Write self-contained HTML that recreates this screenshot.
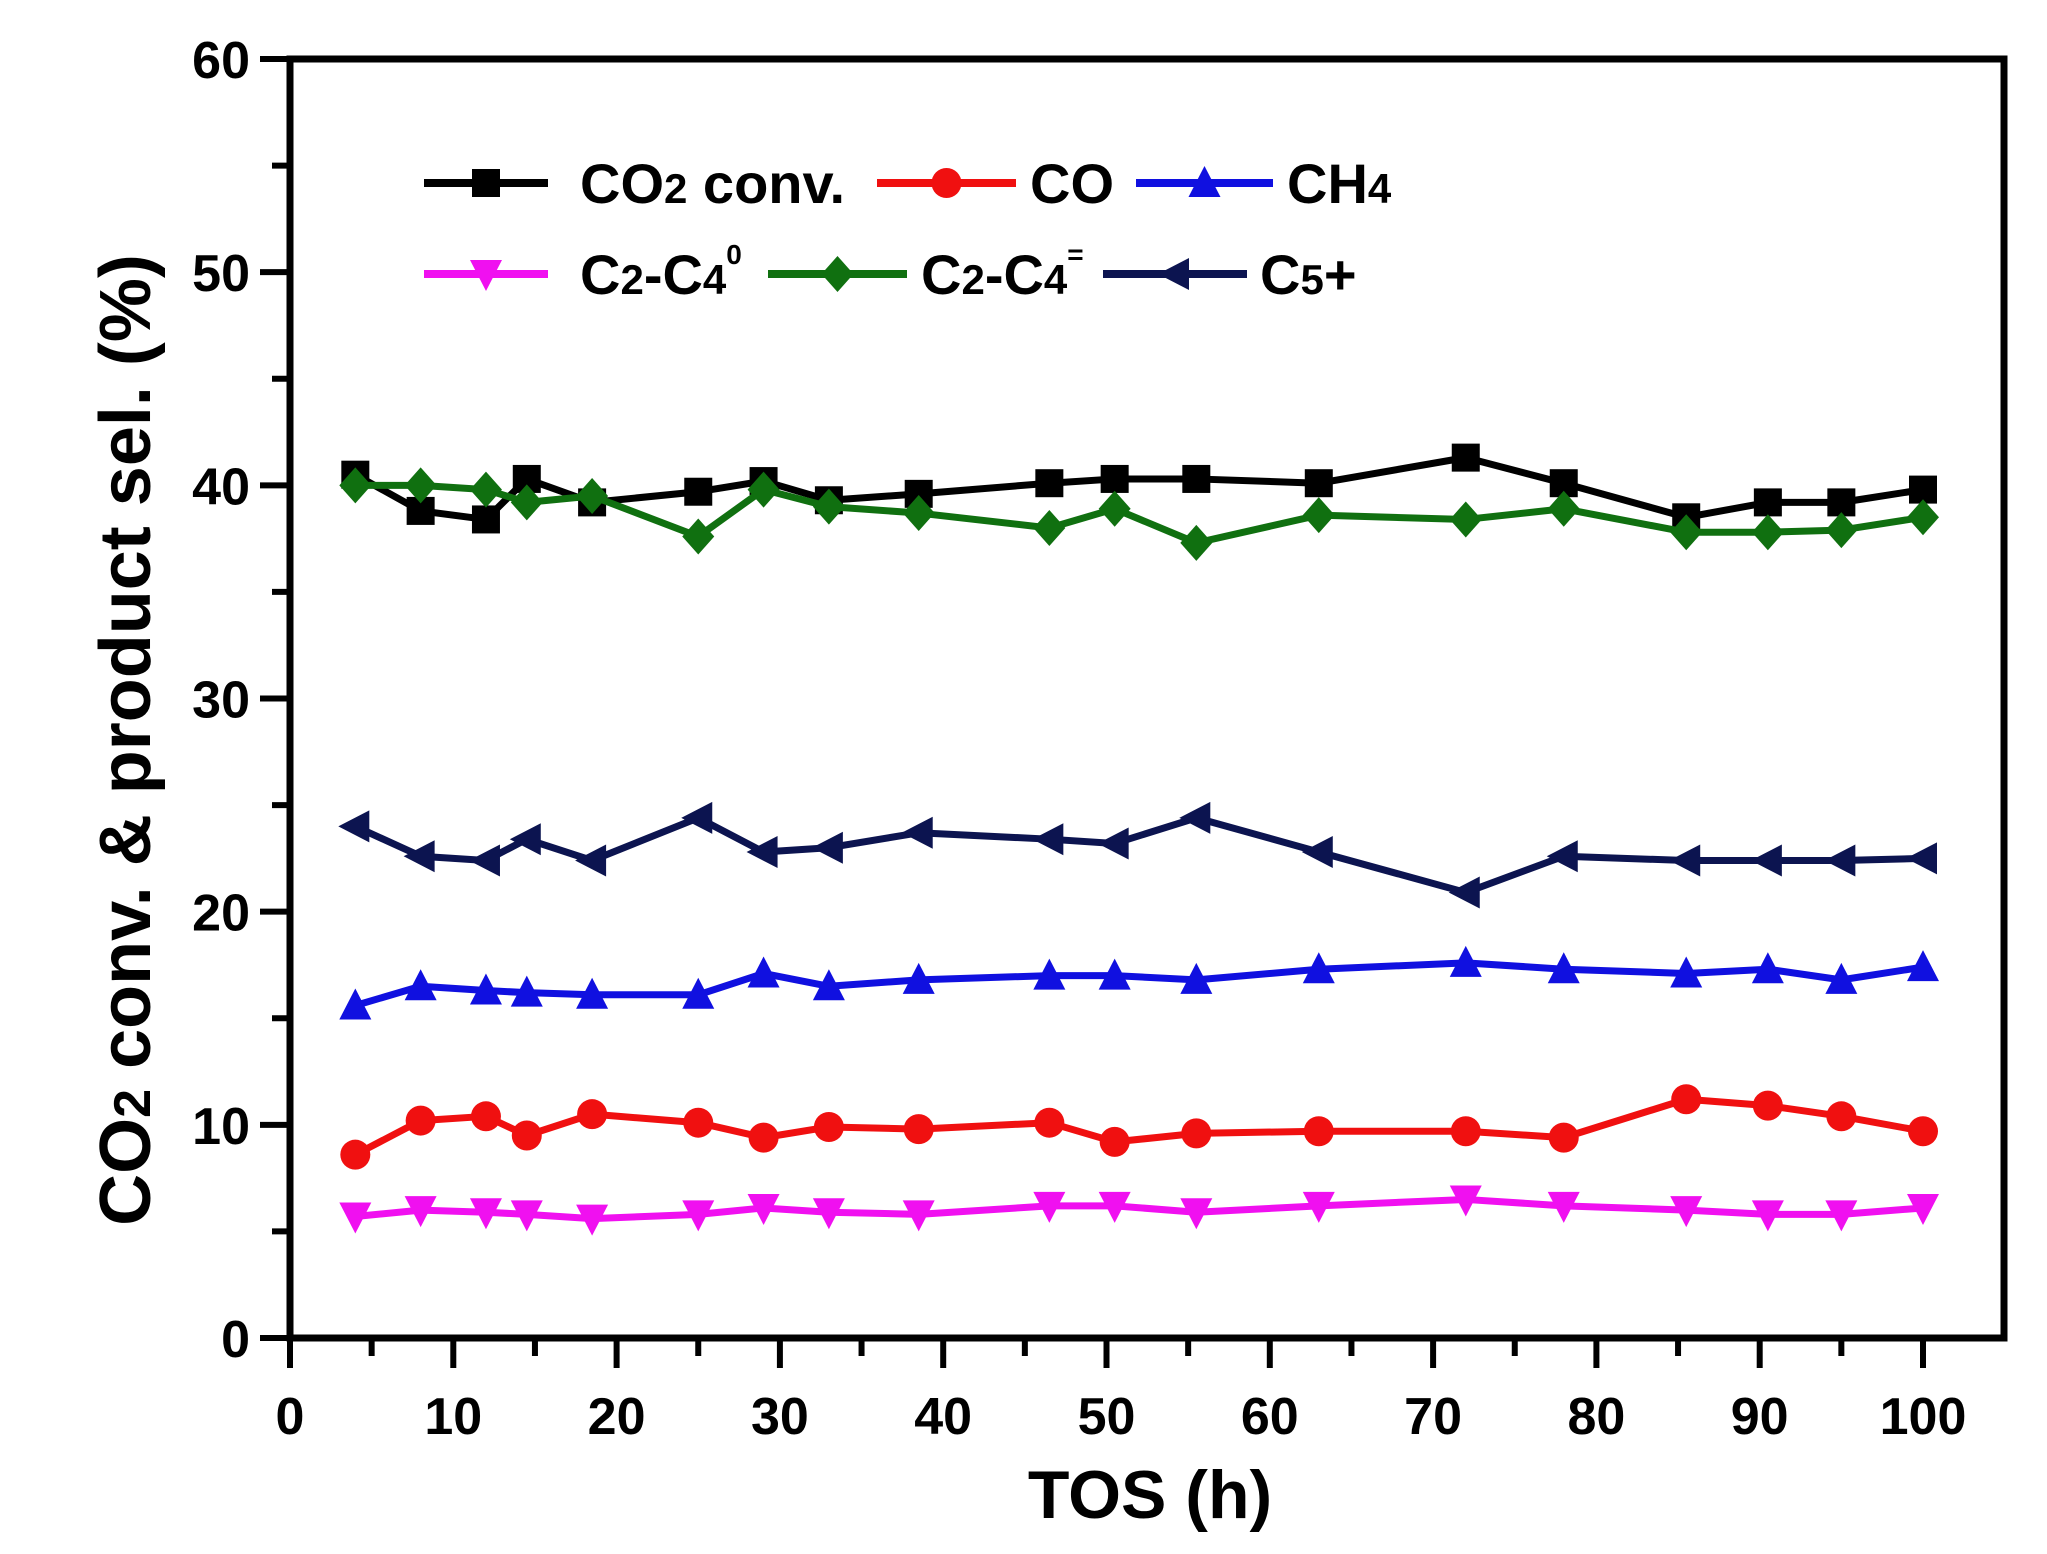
<!DOCTYPE html>
<html><head><meta charset="utf-8"><style>
html,body{margin:0;padding:0;background:#fff;}
svg{display:block;font-family:"Liberation Sans",Arial,sans-serif;font-weight:bold;}
</style></head><body>
<svg id="chart" width="2047" height="1554" viewBox="0 0 2047 1554" xmlns="http://www.w3.org/2000/svg"></svg>
<script>
const xValues = [4, 8, 12, 14.5, 18.5, 25, 29, 33, 38.5, 46.5, 50.5, 55.5, 63, 72, 78, 85.5, 90.5, 95, 100];
const co2Conv = [40.5, 38.8, 38.4, 40.3, 39.2, 39.7, 40.2, 39.3, 39.6, 40.1, 40.3, 40.3, 40.1, 41.3, 40.1, 38.5, 39.2, 39.2, 39.8];
const coSel = [8.6, 10.2, 10.4, 9.5, 10.5, 10.1, 9.4, 9.9, 9.8, 10.1, 9.2, 9.6, 9.7, 9.7, 9.4, 11.2, 10.9, 10.4, 9.7];
const ch4Sel = [15.6, 16.5, 16.3, 16.2, 16.1, 16.1, 17.1, 16.5, 16.8, 17.0, 17.0, 16.8, 17.3, 17.6, 17.3, 17.1, 17.3, 16.8, 17.4];
const c2c4ParaffinSel = [5.7, 6.0, 5.9, 5.8, 5.6, 5.8, 6.1, 5.9, 5.8, 6.2, 6.2, 5.9, 6.2, 6.5, 6.2, 6.0, 5.8, 5.8, 6.1];
const c2c4OlefinSel = [40.0, 40.0, 39.8, 39.2, 39.5, 37.6, 39.8, 39.0, 38.7, 38.0, 38.9, 37.3, 38.6, 38.4, 38.9, 37.8, 37.8, 37.9, 38.5];
const c5PlusSel = [24.0, 22.6, 22.4, 23.4, 22.4, 24.4, 22.8, 23.0, 23.7, 23.4, 23.2, 24.4, 22.8, 20.9, 22.6, 22.4, 22.4, 22.4, 22.5];
const xTicks = [0, 10, 20, 30, 40, 50, 60, 70, 80, 90, 100];
const yTicks = [0, 10, 20, 30, 40, 50, 60];

const NS = "http://www.w3.org/2000/svg";
const svg = document.getElementById('chart');
const X0 = 290, X1 = 2004, Y0 = 1338, Ytop = 59;
const xs = v => 290 + v * 16.33;
const ys = v => Y0 - v * (Y0 - Ytop) / 60;
function el(tag, attrs, parent) {
  const e = document.createElementNS(NS, tag);
  for (const k in attrs) e.setAttribute(k, attrs[k]);
  (parent || svg).appendChild(e);
  return e;
}
const frame = el('rect', {x: X0, y: Ytop, width: X1 - X0, height: Y0 - Ytop, fill: 'none', stroke: '#000', 'stroke-width': 7});


for (let v = 0; v <= 100; v += 5) {
  const major = v % 10 === 0;
  const t = el('line', {x1: xs(v), x2: xs(v), y1: Y0, y2: Y0 + (major ? 30 : 18), stroke: '#000', 'stroke-width': 6});
  
  
}
xTicks.forEach(v => {
  const t = el('text', {x: xs(v), y: 1434, 'text-anchor': 'middle', 'font-size': 52});
  t.textContent = v;
  
  
});
for (let v = 0; v <= 60; v += 5) {
  const major = v % 10 === 0;
  const t = el('line', {x1: X0, x2: X0 - (major ? 30 : 18), y1: ys(v), y2: ys(v), stroke: '#000', 'stroke-width': 6});
  
  
}
yTicks.forEach(v => {
  const t = el('text', {x: 250, y: ys(v) + 19, 'text-anchor': 'end', 'font-size': 52});
  t.textContent = v;
  
  
});
const xt = el('text', {x: 1150, y: 1518, 'text-anchor': 'middle', 'font-size': 68});
xt.textContent = 'TOS (h)';


const yt = el('text', {x: 0, y: 0, 'text-anchor': 'middle', 'font-size': 72, transform: 'translate(150,740) rotate(-90)'});
yt.innerHTML = 'CO<tspan font-size="52">2</tspan> conv. &amp; product sel. (%)';



function marker(type, cx, cy, color, parent) {
  const s = 14;
  let m;
  if (type === 'square') m = el('rect', {x: cx - s, y: cy - s, width: 2 * s, height: 2 * s, fill: color}, parent);
  else if (type === 'circle') m = el('circle', {cx, cy, r: s + 1, fill: color}, parent);
  else if (type === 'up') m = el('polygon', {points: `${cx},${cy - s - 3} ${cx - s - 2},${cy + s} ${cx + s + 2},${cy + s}`, fill: color}, parent);
  else if (type === 'down') m = el('polygon', {points: `${cx},${cy + s + 3} ${cx - s - 2},${cy - s} ${cx + s + 2},${cy - s}`, fill: color}, parent);
  else if (type === 'diamond') m = el('polygon', {points: `${cx},${cy - s - 4} ${cx + s + 2},${cy} ${cx},${cy + s + 4} ${cx - s - 2},${cy}`, fill: color}, parent);
  else m = el('polygon', {points: `${cx - s - 3},${cy} ${cx + s},${cy - s - 2} ${cx + s},${cy + s + 2}`, fill: color}, parent);
  return m;
}
const series = [
  {name: 'co2-conv', vals: co2Conv, color: '#000', type: 'square'},
  {name: 'c2-c4-olefin', vals: c2c4OlefinSel, color: '#107010', type: 'diamond'},
  {name: 'c5-plus', vals: c5PlusSel, color: '#0c1450', type: 'left'},
  {name: 'ch4', vals: ch4Sel, color: '#1010e0', type: 'up'},
  {name: 'co', vals: coSel, color: '#f01010', type: 'circle'},
  {name: 'c2-c4-paraffin', vals: c2c4ParaffinSel, color: '#f010f0', type: 'down'}
];
series.forEach(s => {
  const g = el('g', {});
  
  
  const pts = xValues.map((x, i) => xs(x) + ',' + ys(s.vals[i])).join(' ');
  const line = el('polyline', {points: pts, fill: 'none', stroke: s.color, 'stroke-width': 7, 'stroke-linejoin': 'round'}, g);
  
  
  xValues.forEach((x, i) => {
    const m = marker(s.type, xs(x), ys(s.vals[i]), s.color, g);
    
    
  });
});
const legend = [
  {x1: 424, x2: 548, tx: 580, y: 183, color: '#000', type: 'square', label: 'CO<tspan font-size="42">2</tspan> conv.', name: 'co2-conv'},
  {x1: 877, x2: 1016, tx: 1030, y: 183, color: '#f01010', type: 'circle', label: 'CO', name: 'co'},
  {x1: 1136, x2: 1273, tx: 1287, y: 183, color: '#1010e0', type: 'up', label: 'CH<tspan font-size="42">4</tspan>', name: 'ch4'},
  {x1: 424, x2: 548, tx: 580, y: 274, color: '#f010f0', type: 'down', label: 'C<tspan font-size="42">2</tspan>-C<tspan font-size="42">4</tspan><tspan font-size="28" dy="-30">0</tspan>', name: 'c2-c4-paraffin'},
  {x1: 768, x2: 907, tx: 921, y: 274, color: '#107010', type: 'diamond', label: 'C<tspan font-size="42">2</tspan>-C<tspan font-size="42">4</tspan><tspan font-size="28" dy="-30">=</tspan>', name: 'c2-c4-olefin'},
  {x1: 1103, x2: 1247, tx: 1260, y: 274, color: '#0c1450', type: 'left', label: 'C<tspan font-size="42">5</tspan>+', name: 'c5-plus'}
];
legend.forEach(l => {
  const g = el('g', {});
  
  
  el('line', {x1: l.x1, x2: l.x2, y1: l.y, y2: l.y, stroke: l.color, 'stroke-width': 8}, g);
  marker(l.type, (l.x1 + l.x2) / 2, l.y, l.color, g);
  const t = el('text', {x: l.tx, y: l.y + 20, 'font-size': 56}, g);
  t.innerHTML = l.label;
});
</script>
</body></html>
